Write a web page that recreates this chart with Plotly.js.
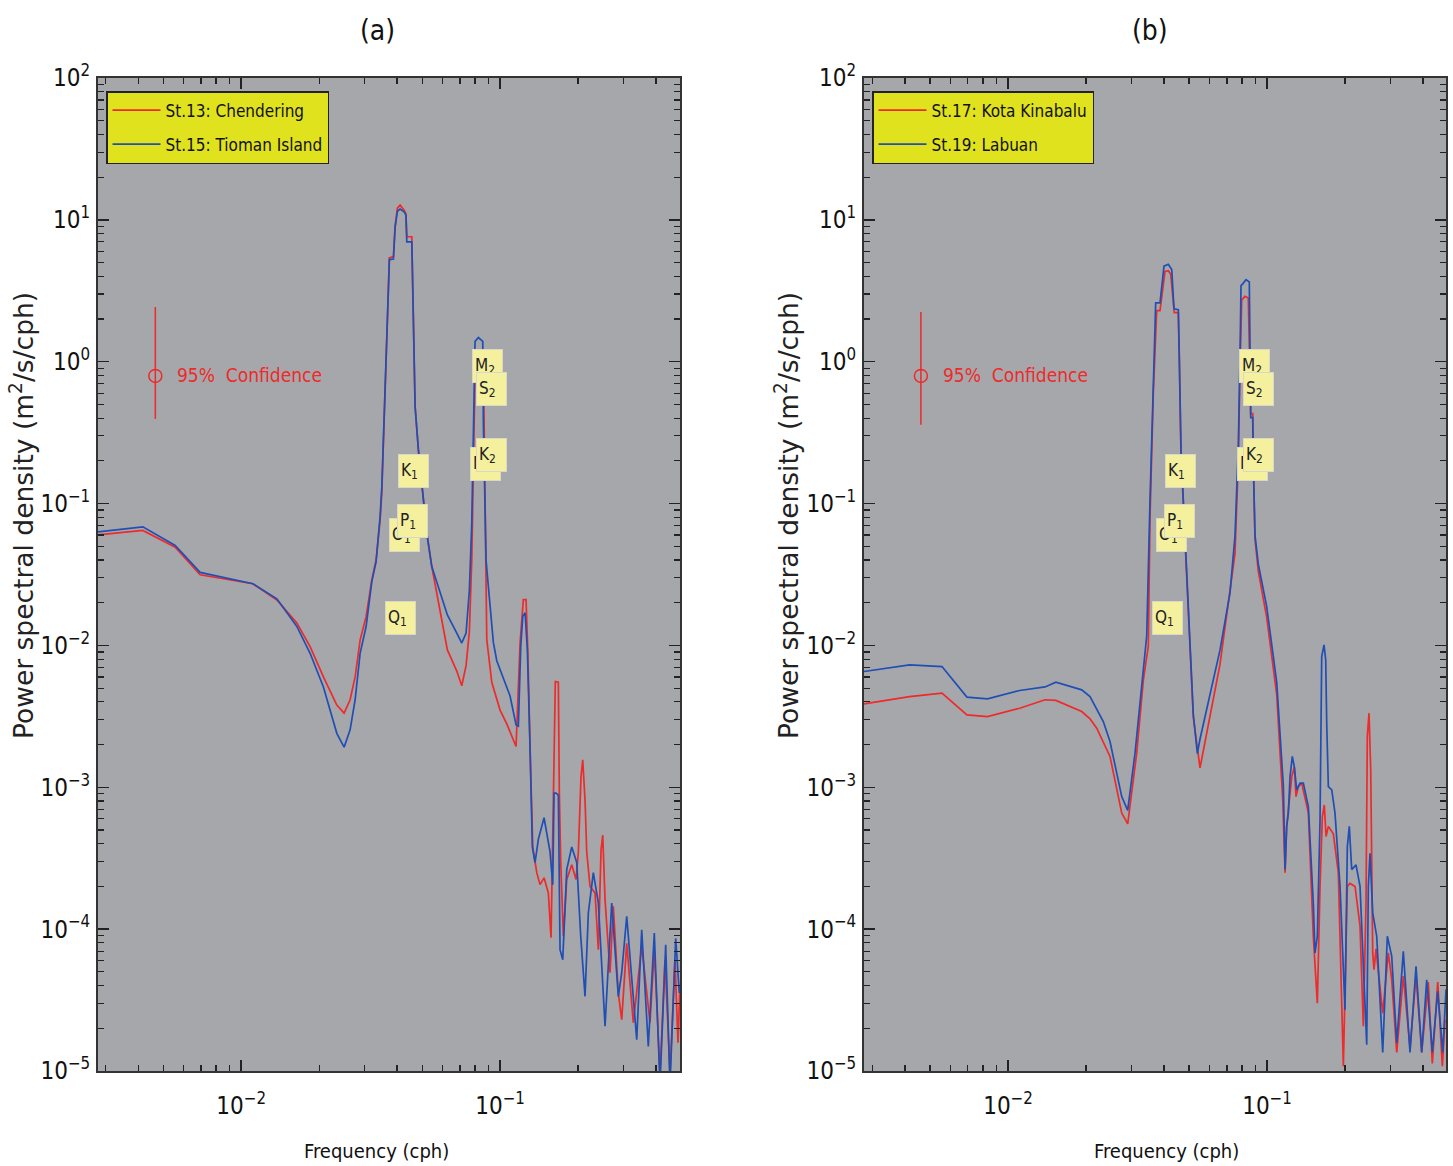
<!DOCTYPE html>
<html>
<head>
<meta charset="utf-8">
<script src="https://cdn.plot.ly/plotly-3.0.1.min.js"></script>
<style>html,body{margin:0;padding:0;background:#fff;}#chart{width:1453px;height:1166px;}</style>
</head>
<body>
<div id="chart"></div>
<script>
// ---------------- DATA ----------------
// Panel (a)
const f13 = [0.00278,0.00417,0.00556,0.00694,0.0111,0.01374,0.01641,0.01846,0.02078,0.02341,0.02498,0.02635,0.02755,0.0288,0.03038,0.03196,0.0332,0.03441,0.03493,0.03597,0.03672,0.03737,0.03873,0.03932,0.04013,0.0411,0.04259,0.0433,0.04363,0.04561,0.04602,0.04697,0.04837,0.04985,0.05212,0.05448,0.05866,0.06259,0.06805,0.07113,0.0739,0.07611,0.07775,0.07887,0.08006,0.08245,0.08574,0.0866,0.08751,0.08775,0.08885,0.09289,0.1,0.10614,0.11255,0.11528,0.11946,0.12128,0.12301,0.126,0.12793,0.13056,0.13374,0.13859,0.1427,0.14787,0.15364,0.15736,0.16061,0.16349,0.16792,0.16942,0.17154,0.17554,0.18094,0.18917,0.19652,0.20059,0.20546,0.20859,0.2129,0.21614,0.22258,0.2327,0.23963,0.24545,0.24918,0.25434,0.2659,0.2738,0.28625,0.29503,0.30845,0.32708,0.35245,0.37943,0.39421,0.41469,0.43355,0.45327,0.47386,0.48667,0.4955];
const p13 = [0.060,0.0646,0.0493,0.0315,0.0272,0.0209,0.0144,0.0098,0.0060,0.0038,0.00333,0.00414,0.0060,0.0109,0.016,0.029,0.040,0.077,0.12,0.63,2.44,5.4,5.5,8.95,12.1,12.7,11.7,11.0,7.6,7.6,3.2,0.483,0.239,0.14,0.062,0.036,0.0178,0.0093,0.0066,0.0052,0.0072,0.0125,0.04,0.25,0.85,1.0,0.95,0.5,0.09,0.030,0.011,0.0055,0.0035,0.0028,0.00216,0.00194,0.0104,0.0144,0.021,0.021,0.0093,0.0019,0.00038,0.00025,0.000206,0.00023,0.00018,0.000087,0.00091,0.00557,0.0055,0.00091,0.000295,0.000089,0.000224,0.000284,0.000224,0.000347,0.00119,0.00156,0.00081,0.00035,0.0002,0.00018,0.0000716,0.00036,0.00046,0.000162,0.0000493,0.000145,0.0000355,0.000023,0.0000794,0.0000219,0.0000758,0.0000219,0.0000716,0.0000095,0.0000608,0.0000095,0.0000608,0.0000158,0.00004];

const f15 = [0.00278,0.00417,0.00556,0.00694,0.0111,0.01374,0.01641,0.01846,0.02078,0.02341,0.02498,0.02635,0.02755,0.0288,0.03038,0.03196,0.0332,0.03441,0.03493,0.03597,0.03672,0.03737,0.03873,0.03932,0.04013,0.0411,0.04259,0.0433,0.04363,0.04561,0.04602,0.04697,0.04837,0.04985,0.05212,0.05448,0.05866,0.06259,0.06805,0.07113,0.0739,0.07611,0.07775,0.07887,0.08006,0.08245,0.08574,0.0862,0.08751,0.08829,0.09012,0.09421,0.09711,0.10298,0.1093,0.11528,0.11767,0.1202,0.12236,0.12489,0.12747,0.13056,0.13326,0.1365,0.14057,0.14787,0.15597,0.15976,0.16162,0.16451,0.16792,0.17047,0.17461,0.18094,0.18917,0.19776,0.20491,0.2129,0.21924,0.2292,0.23963,0.25434,0.26993,0.28625,0.29503,0.30845,0.33714,0.35245,0.37374,0.39421,0.41469,0.43625,0.45327,0.47684,0.4923];
const p15 = [0.063,0.0686,0.0506,0.0327,0.0272,0.0213,0.0136,0.0088,0.0051,0.0024,0.00192,0.00254,0.00414,0.0088,0.0136,0.0282,0.039,0.081,0.13,0.63,2.44,5.25,5.3,8.9,11.5,11.9,11.4,10.8,7.0,7.0,3.2,0.483,0.239,0.14,0.062,0.036,0.0234,0.0164,0.0122,0.0104,0.0122,0.0245,0.073,0.37,1.39,1.48,1.39,0.37,0.09,0.040,0.026,0.0105,0.0078,0.0058,0.0044,0.00275,0.0027,0.0098,0.016,0.017,0.0093,0.0019,0.00038,0.000295,0.00043,0.00061,0.00035,0.000206,0.00091,0.00091,0.00088,0.0000716,0.0000608,0.000263,0.00038,0.000295,0.000089,0.0000336,0.00013,0.00025,0.000153,0.0000207,0.000153,0.0000336,0.0000493,0.000123,0.0000166,0.0000991,0.0000149,0.0000937,0.000008,0.0000776,0.000008,0.000086,0.0000355];

// Panel (b)
const f17 = [0.00278,0.00417,0.00556,0.00694,0.00833,0.0111,0.0139,0.0153,0.01926,0.02073,0.0220,0.02476,0.02748,0.02898,0.0314,0.0333,0.03481,0.03534,0.03639,0.0375,0.03862,0.04038,0.04158,0.04248,0.04386,0.04545,0.04586,0.04655,0.04751,0.04897,0.05043,0.05193,0.05512,0.06024,0.06585,0.07523,0.07747,0.07865,0.07984,0.08222,0.08467,0.0865,0.08806,0.08853,0.08987,0.09256,0.09974,0.109,0.1150,0.1174,0.1191,0.1246,0.1275,0.1294,0.1321,0.1361,0.1444,0.1509,0.1564,0.1602,0.1635,0.1664,0.1690,0.1725,0.1803,0.1885,0.1971,0.2042,0.2091,0.2187,0.2286,0.2354,0.2411,0.2439,0.2476,0.2514,0.2559,0.2589,0.2635,0.2797,0.2940,0.3030,0.3168,0.3359,0.3565,0.3761,0.3956,0.4195,0.4347,0.4561,0.4751,0.4867];
const p17 = [0.00387,0.00436,0.00461,0.00324,0.00315,0.00361,0.00414,0.0041,0.00342,0.00304,0.00261,0.00165,0.000658,0.000553,0.00174,0.0057,0.0099,0.08,0.6,2.29,2.29,4.33,4.38,4.14,2.22,2.22,1.0,0.22,0.1,0.032,0.0098,0.0031,0.00137,0.00328,0.00738,0.0445,0.2,0.9,2.73,2.89,2.81,0.43,0.43,0.2,0.056,0.0333,0.0157,0.0045,0.00082,0.00025,0.00053,0.00119,0.00139,0.00086,0.00101,0.00107,0.00066,0.0000891,0.000030,0.0002,0.00062,0.00075,0.00045,0.00053,0.00047,0.00025,0.0000108,0.0002,0.00021,0.0002,0.000105,0.0000207,0.000153,0.00228,0.00333,0.00133,0.000068,0.0000518,0.0000726,0.0000256,0.000068,0.000044,0.0000135,0.0000467,0.0000145,0.0000467,0.0000135,0.0000424,0.0000113,0.0000424,0.0000108,0.000023];

const f19 = [0.00278,0.00417,0.00556,0.00694,0.00833,0.0111,0.0139,0.0153,0.01926,0.02073,0.02333,0.02476,0.02748,0.02898,0.03093,0.0333,0.03432,0.03534,0.03639,0.03717,0.03862,0.03921,0.04002,0.04158,0.04286,0.04374,0.04545,0.04586,0.04655,0.04751,0.04897,0.05043,0.05193,0.05381,0.05512,0.06585,0.07196,0.07523,0.07747,0.07865,0.07935,0.08056,0.08295,0.08543,0.0865,0.08806,0.08853,0.08987,0.09256,0.09974,0.109,0.1156,0.1174,0.1191,0.1209,0.1227,0.1252,0.1275,0.1302,0.1341,0.1381,0.1444,0.1509,0.1532,0.1564,0.1602,0.1626,0.1660,0.1685,0.1700,0.1725,0.1778,0.1830,0.1914,0.2000,0.2042,0.2078,0.2123,0.2206,0.2286,0.2390,0.2426,0.2461,0.2498,0.2559,0.2652,0.2797,0.2914,0.3030,0.3168,0.3359,0.3565,0.3761,0.3956,0.4136,0.4347,0.4561,0.4768,0.4910];
const p19 = [0.00655,0.0073,0.0071,0.00432,0.0042,0.00481,0.0051,0.00551,0.00486,0.00436,0.00291,0.0021,0.00086,0.000687,0.00174,0.0071,0.0117,0.106,0.807,2.60,2.60,3.44,4.72,4.86,4.47,2.36,2.33,1.08,0.239,0.106,0.0333,0.01045,0.00328,0.00173,0.00219,0.0093,0.0235,0.0594,0.253,1.08,3.44,3.54,3.79,3.65,0.403,0.403,0.19,0.0594,0.0374,0.0187,0.0055,0.00103,0.000263,0.00053,0.000658,0.00119,0.00165,0.00139,0.00096,0.00107,0.00107,0.00073,0.000153,0.0000679,0.0000891,0.00059,0.00835,0.0101,0.0079,0.00283,0.00101,0.00096,0.000658,0.0002,0.000027,0.00038,0.00053,0.000263,0.000284,0.0002,0.000023,0.0000153,0.0002,0.000343,0.00013,0.0000891,0.0000135,0.0000891,0.0000645,0.0000158,0.0000697,0.0000135,0.0000546,0.0000135,0.000044,0.0000135,0.0000364,0.0000135,0.0000376];

// Series names
const seriesA = ["St.13: Chendering", "St.15: Tioman Island"];
const seriesB = ["St.17: Kota Kinabalu", "St.19: Labuan"];

// 95% confidence bar (frequency, centre, upper, lower)
const confA = {f: 0.00466, c: 0.794, up: 2.43, lo: 0.395};
const confB = {f: 0.00461, c: 0.794, up: 2.24, lo: 0.359};

// Tidal constituents (name, frequency in cph)
const tideNames = ["Q<sub>1</sub>", "O<sub>1</sub>", "P<sub>1</sub>", "K<sub>1</sub>", "N<sub>2</sub>", "K<sub>2</sub>", "M<sub>2</sub>", "S<sub>2</sub>"];
const tideFreq  = [0.03722, 0.03873, 0.04155, 0.04178, 0.07900, 0.08356, 0.08051, 0.08333];

// Axis ticks
const yTickVals = [1e-5, 1e-4, 1e-3, 1e-2, 1e-1, 1e0, 1e1, 1e2];
const yTickText = ["10<sup>−5</sup>","10<sup>−4</sup>","10<sup>−3</sup>","10<sup>−2</sup>","10<sup>−1</sup>","10<sup>0</sup>","10<sup>1</sup>","10<sup>2</sup>"];
const xTickVals = [0.01, 0.1];
const xTickText = ["10<sup>−2</sup>", "10<sup>−1</sup>"];

// ---------------- STYLE / LAYOUT ----------------
const RED = "#ee2a2a", BLUE = "#1f4fb5";
const COND = "'DejaVu Sans Condensed','Liberation Sans',sans-serif";
const W = 1453, H = 1166;
const px = v => v / W, py = v => 1 - v / H;

// label vertical positions (log10 of PSD) — layout positions of the yellow boxes
const tideLabelY = [-1.81, -1.22, -1.12, -0.77, -0.72, -0.66, -0.03, -0.19];

const minorY = [];
for (let e = -5; e < 2; e++) for (let m = 2; m <= 9; m++) minorY.push(m * Math.pow(10, e));
const minorX = [];
for (let e = -3; e < 0; e++) for (let m = 2; m <= 9; m++) minorX.push(m * Math.pow(10, e));

function xAxis(domain, range) {
  return {type: "log", domain: domain, range: range, tickmode: "array", tickvals: xTickVals, ticktext: xTickText,
    ticks: "inside", ticklen: 11, tickwidth: 1.5, tickcolor: "#222", showline: true, linecolor: "#333", linewidth: 2,
    mirror: "ticks", showgrid: false, zeroline: false, automargin: false, ticklabelstandoff: 12,
    tickfont: {family: COND, size: 24, color: "#111"},
    minor: {tickmode: "array", tickvals: minorX, ticks: "inside", ticklen: 6, tickwidth: 1.2, tickcolor: "#222", showgrid: false}};
}
function yAxis(anchor) {
  return {type: "log", domain: [py(1071), py(78)], range: [-5, 2], anchor: anchor, tickmode: "array", tickvals: yTickVals, ticktext: yTickText,
    ticks: "inside", ticklen: 11, tickwidth: 1.5, tickcolor: "#222", showline: true, linecolor: "#333", linewidth: 2,
    mirror: "ticks", showgrid: false, zeroline: false, automargin: false,
    tickfont: {family: COND, size: 24, color: "#111"}, ticklabelstandoff: 1,
    minor: {tickmode: "array", tickvals: minorY, ticks: "inside", ticklen: 6, tickwidth: 1.2, tickcolor: "#222", showgrid: false}};
}

const lineA = (x, y, name, color, legend, xa, ya) => ({x: x, y: y, name: name, type: "scatter", mode: "lines",
  line: {color: color, width: 1.7}, xaxis: xa, yaxis: ya, legend: legend, legendgroup: name});

function confTrace(c, xa, ya) {
  return {x: [c.f], y: [c.c], type: "scatter", mode: "markers", showlegend: false, xaxis: xa, yaxis: ya,
    marker: {symbol: "circle-open", size: 13, color: RED, line: {color: RED, width: 1.5}},
    error_y: {type: "data", symmetric: false, array: [c.up - c.c], arrayminus: [c.c - c.lo], color: RED, thickness: 1.5, width: 0}};
}

const traces = [
  lineA(f13, p13, seriesA[0], RED, "legend", "x", "y"),
  lineA(f15, p15, seriesA[1], BLUE, "legend", "x", "y"),
  lineA(f17, p17, seriesB[0], RED, "legend2", "x2", "y2"),
  lineA(f19, p19, seriesB[1], BLUE, "legend2", "x2", "y2"),
  confTrace(confA, "x", "y"),
  confTrace(confB, "x2", "y2")
];

const annotations = [];
[["x", "y"], ["x2", "y2"]].forEach(([xr, yr]) => {
  tideNames.forEach((n, i) => {
    annotations.push({xref: xr, yref: yr, x: Math.log10(tideFreq[i]), y: tideLabelY[i], text: n,
      xanchor: "left", yanchor: "middle", xshift: -4, showarrow: false, align: "left",
      width: 25, height: 28, borderpad: 2, borderwidth: 1, bordercolor: "#d8d8c8", bgcolor: "#f4f09e",
      font: {family: COND, size: 17, color: "#222"}});
  });
});
const confFont = {family: COND, size: 19, color: RED};
annotations.push({xref: "x", yref: "y", x: -2.255, y: -0.093, text: "95%  Confidence", showarrow: false, xanchor: "left", font: confFont});
annotations.push({xref: "x2", yref: "y2", x: -2.259, y: -0.093, text: "95%  Confidence", showarrow: false, xanchor: "left", font: confFont});
// panel titles
const titleFont = {family: COND, size: 28, color: "#111"};
annotations.push({xref: "paper", yref: "paper", x: px(377), y: py(30), xanchor: "center", yanchor: "middle", text: "(a)", showarrow: false, font: titleFont});
annotations.push({xref: "paper", yref: "paper", x: px(1150), y: py(30), xanchor: "center", yanchor: "middle", text: "(b)", showarrow: false, font: titleFont});
// axis titles
const xtFont = {family: COND, size: 20, color: "#111"};
annotations.push({xref: "paper", yref: "paper", x: px(376), y: py(1151), xanchor: "center", yanchor: "middle", text: "Frequency (cph)", showarrow: false, font: xtFont});
annotations.push({xref: "paper", yref: "paper", x: px(1166), y: py(1151), xanchor: "center", yanchor: "middle", text: "Frequency (cph)", showarrow: false, font: xtFont});
const ytFont = {family: "'DejaVu Sans',Verdana,sans-serif", size: 26.5, color: "#222"};
annotations.push({xref: "paper", yref: "paper", x: px(22), y: py(516), xanchor: "center", yanchor: "middle", text: "Power spectral density (m<sup>2</sup>/s/cph)", textangle: -90, showarrow: false, font: ytFont});
annotations.push({xref: "paper", yref: "paper", x: px(787), y: py(516), xanchor: "center", yanchor: "middle", text: "Power spectral density (m<sup>2</sup>/s/cph)", textangle: -90, showarrow: false, font: ytFont});

const legendStyle = (x) => ({x: px(x), y: py(91), xanchor: "left", yanchor: "top", bgcolor: "#e0e21e", bordercolor: "#222", borderwidth: 1.5,
  font: {family: COND, size: 17, color: "#111"}, itemwidth: 48, tracegroupgap: 9});

const layout = {
  width: W, height: H, margin: {l: 0, r: 0, t: 0, b: 0}, paper_bgcolor: "#ffffff", plot_bgcolor: "#a6a7ab",
  showlegend: true,
  xaxis: xAxis([px(98), px(680)], [-2.553, -0.305]),
  yaxis: yAxis("x"),
  xaxis2: xAxis([px(864), px(1446)], [-2.556, -0.309]),
  yaxis2: yAxis("x2"),
  legend: legendStyle(106),
  legend2: legendStyle(872),
  annotations: annotations
};
layout.xaxis.anchor = "y";
layout.xaxis2.anchor = "y2";

Plotly.newPlot("chart", traces, layout, {displayModeBar: false, staticPlot: true});
</script>
</body>
</html>
